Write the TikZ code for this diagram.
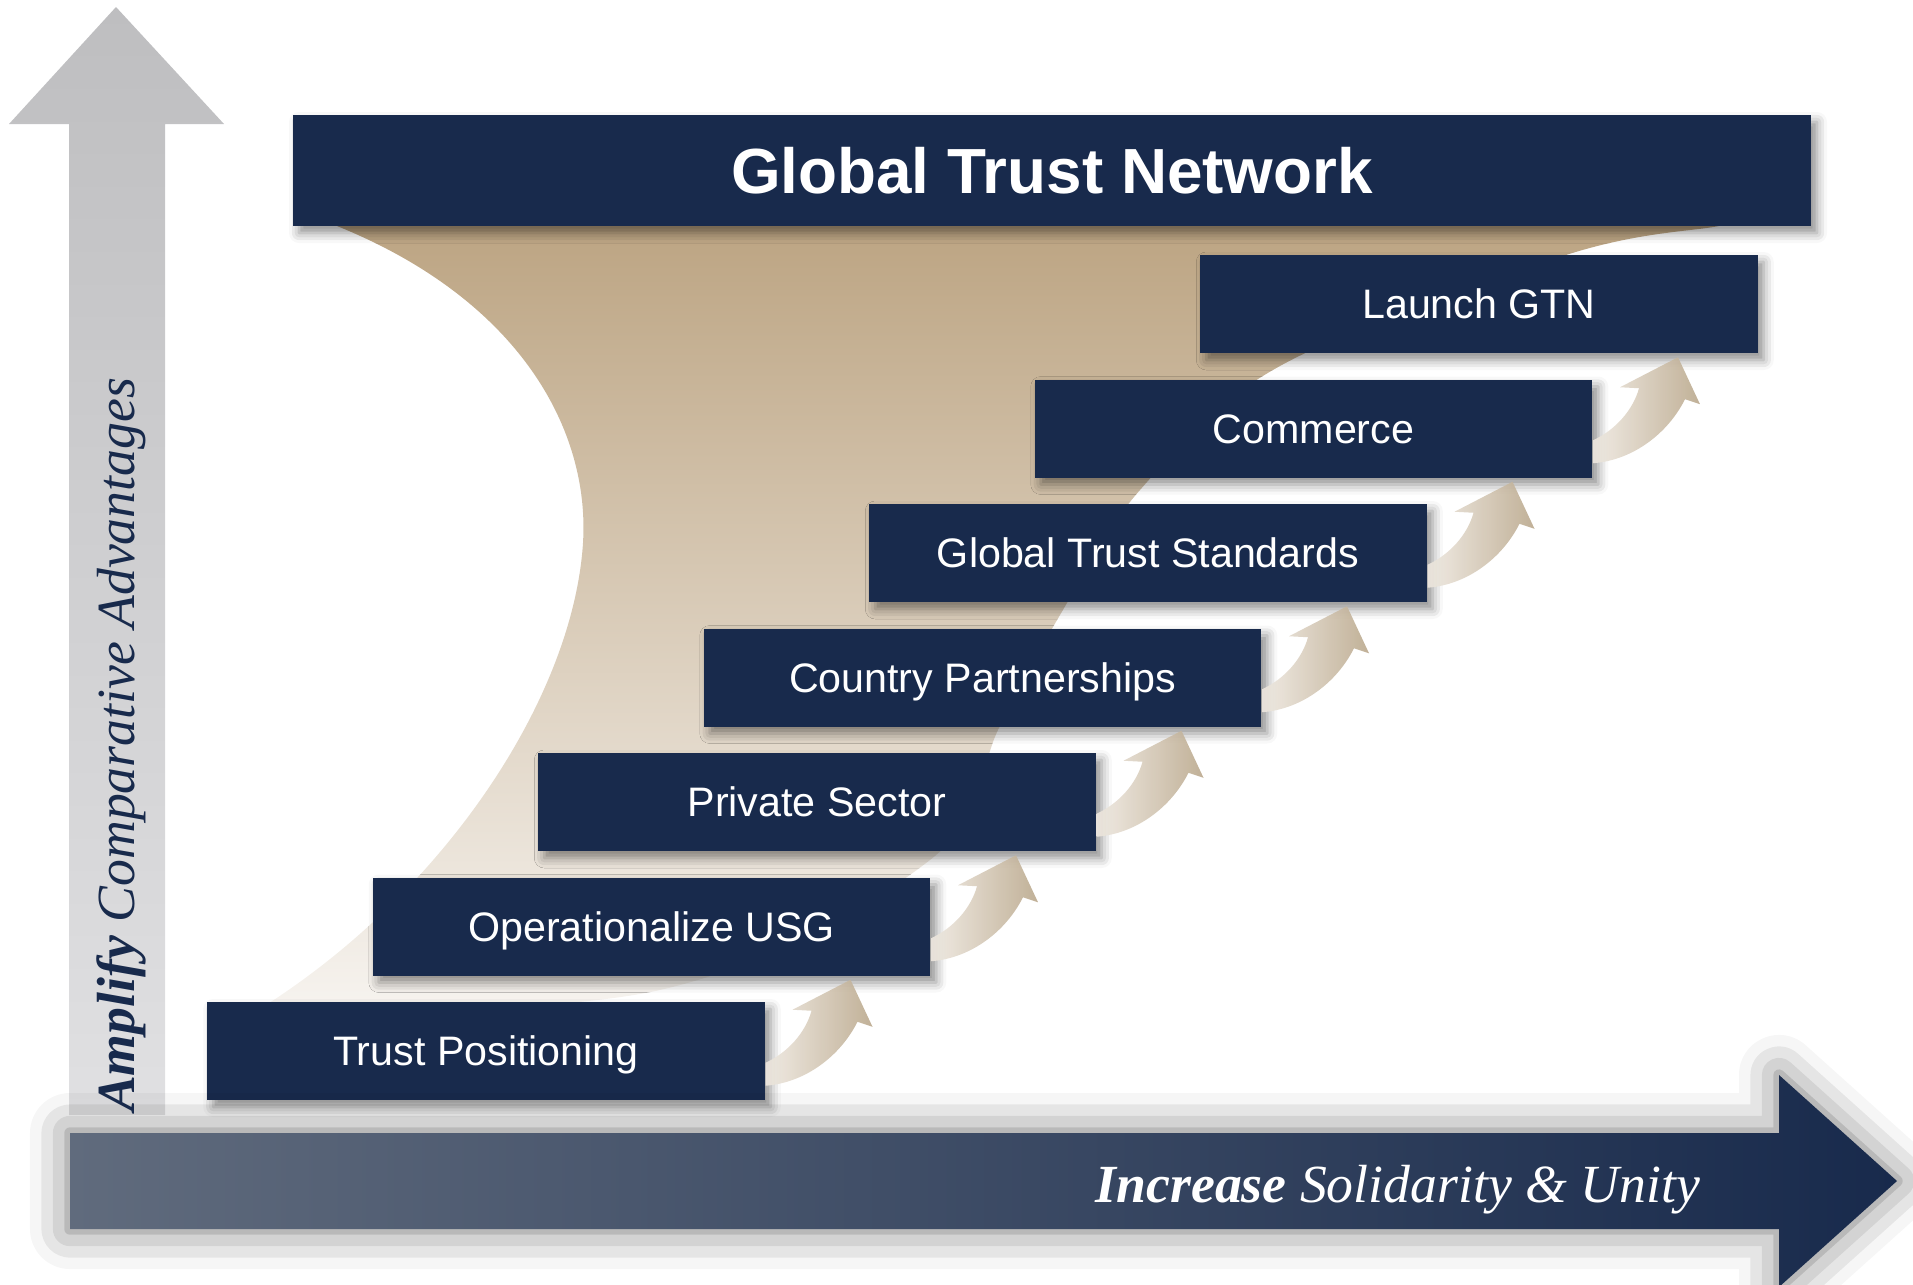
\documentclass[tikz,border=0pt]{standalone}
\usepackage{fontspec}
\setmainfont{Liberation Serif}
\setsansfont{Liberation Sans}
\usetikzlibrary{calc,shadows.blur}

\definecolor{gtnNavy}{RGB}{24,42,76}
\definecolor{gtnSlate}{RGB}{96,107,125}
\definecolor{gtnMid}{RGB}{84,95,115}
\definecolor{funnelTop}{RGB}{188,164,130}
\definecolor{funnelBot}{RGB}{247,244,240}
\definecolor{arrowLight}{RGB}{238,232,224}
\definecolor{arrowTan}{RGB}{186,168,140}
\definecolor{axisGrayTop}{RGB}{190,190,192}
\definecolor{axisGrayBot}{RGB}{224,224,226}

\tikzset{every picture/.style={line width=0.75pt}}
\tikzset{
  boxshadow/.style={blur shadow={shadow xshift=3pt, shadow yshift=-3.5pt,
      shadow blur radius=5pt, shadow opacity=45}},
  stepbox/.style={fill=gtnNavy, text=white, inner sep=0pt,
      minimum width=278.75pt, minimum height=49pt,
      text height=14.75pt, text depth=0pt, boxshadow,
      font=\sffamily\fontsize{20.6}{24}\selectfont},
  titlebox/.style={fill=gtnNavy, text=white, inner sep=0pt,
      minimum width=759pt, minimum height=55.5pt,
      text height=22.8pt, text depth=0pt, boxshadow,
      font=\sffamily\bfseries\fontsize{31.9}{36}\selectfont},
  arrowshade/.style={left color=arrowLight, right color=arrowTan, fill opacity=0.9},
  axislabel/.style={font=\fontsize{26.85}{30}\selectfont, inner sep=0pt},
}

% curved step arrow from box #1 up to box #2
\newcommand{\stepArrow}[2]{%
  \shade[arrowshade]
    ($(#1.south east)+(0,-38)$)
      .. controls ($(#1.south east)+(22,-48)$) and ($(#1.south east)+(40,-68)$) ..
    ($(#2.south east)+(-119.5,34.5)$)
    -- ($(#2.south east)+(-138.5,33.5)$)
    -- ($(#2.south east)+(-80.5,3.5)$)
    -- ($(#2.south east)+(-58.5,50.5)$)
    -- ($(#2.south east)+(-73.5,45.5)$)
      .. controls ($(#1.south east)+(75,-45)$) and ($(#1.south east)+(40,-18)$) ..
    ($(#1.south east)+(0,-15)$) -- cycle;}

\begin{document}
\begin{tikzpicture}[x=0.5pt,y=0.5pt,yscale=-1,xscale=1]
    \useasboundingbox (0,0) rectangle (1913,1285);

    %Shape: vertical axis arrow
    \shade [top color=axisGrayTop, bottom color=axisGrayBot]
          (116,   7) -- (224, 124) -- (165, 124) -- (165,1115)
       -- ( 69,1115) -- ( 69, 124) -- (  9, 124) -- cycle;

    %Shape: funnel under the banner
    \shade [top color=funnelTop, bottom color=funnelBot]
          (337,222) -- (337,226)
          .. controls (520,300) and (590,430) .. (583,543)
          .. controls (573,700) and (440,900) .. (250,1015)
       -- plot [smooth, tension=0.6] coordinates {(250,1015) (660,990) (930,860) (1000,726)
                (1060,615) (1140,490) (1280,366) (1566,255) (1719,226) (1730,222)}
       -- cycle;

    %Shape: steps
    \node [stepbox] (trustPos)   at ( 486.0,1051.0) {Trust Positioning};
    \node [stepbox] (operUSG)    at ( 651.5, 926.5) {Operationalize USG};
    \node [stepbox] (privSector) at ( 817.0, 802.0) {Private Sector};
    \node [stepbox] (countryPart)at ( 982.5, 677.5) {Country Partnerships};
    \node [stepbox] (trustStd)   at (1148.0, 553.0) {Global Trust Standards};
    \node [stepbox] (commerce)   at (1313.5, 428.5) {Commerce};
    \node [stepbox] (launchGTN)  at (1479.0, 304.0) {Launch GTN};

    %Shape: step arrows
    \stepArrow{trustPos}{operUSG}
    \stepArrow{operUSG}{privSector}
    \stepArrow{privSector}{countryPart}
    \stepArrow{countryPart}{trustStd}
    \stepArrow{trustStd}{commerce}
    \stepArrow{commerce}{launchGTN}

    %Shape: banner
    \node [titlebox] (gtn) at (1052,170.5) {Global Trust Network};

    %Shape: horizontal axis arrow
    \shade [left color=gtnSlate, middle color=gtnMid, right color=gtnNavy,
            blur shadow={shadow xshift=0pt, shadow yshift=0pt,
                         shadow blur radius=20pt, shadow opacity=55}]
          (  70,1133) -- (1779,1133) -- (1779,1075) -- (1897,1181)
       -- (1779,1287) -- (1779,1229) -- (  70,1229) -- cycle;

    %Text: axis labels
    \node [axislabel, rotate=90, anchor=base, text=gtnNavy] (ampText) at (134,745)
          {\textbf{\textit{Amplify}} \textit{Comparative Advantages}};
    \node [axislabel, anchor=base west, text=white] (incText) at (1095,1202)
          {\textbf{\textit{Increase}} \textit{Solidarity \& Unity}};
\end{tikzpicture}
\end{document}
